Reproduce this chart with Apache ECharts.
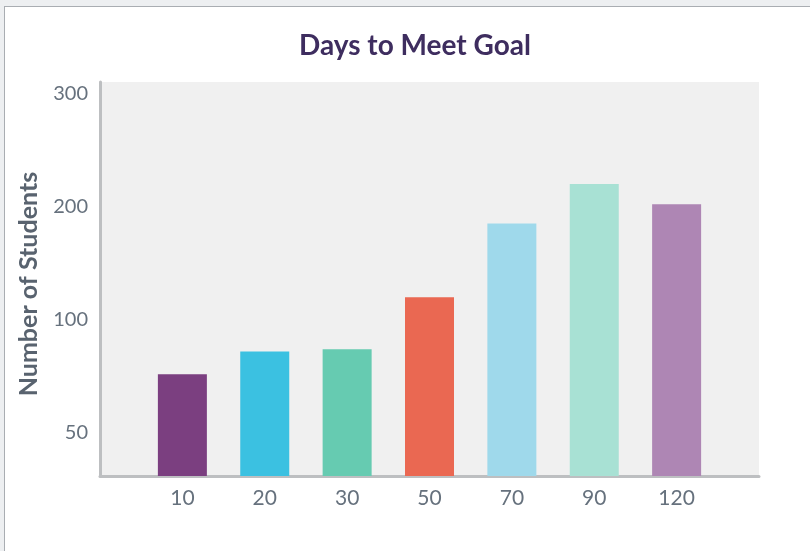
<!DOCTYPE html>
<html>
<head>
<meta charset="utf-8">
<script src="https://cdn.jsdelivr.net/npm/echarts@6/dist/echarts.min.js"></script>
<style>
  html, body { margin: 0; padding: 0; width: 810px; height: 551px; overflow: hidden; background: #edeff1; }
  #card { position: absolute; left: 4px; top: 6px; width: 900px; height: 700px; background: #ffffff; border: 1px solid #a9adb2; }
  #chart { position: absolute; left: 0; top: 0; width: 810px; height: 551px; }
</style>
</head>
<body>
<div id="card"></div>
<div id="chart"></div>
<script>
// ---- data ----
const categories = ['10', '20', '30', '50', '70', '90', '120'];
const students = [76, 86, 87, 120, 185, 220, 202];
const barColors = ['#7b3f80', '#3bc1e1', '#66cbb1', '#ea6852', '#9fd9eb', '#a8e1d4', '#ae86b4'];
// tick labels as they appear on the (unevenly labelled) y axis, bottom to top
const yTickLabels = [50, 100, 200, 300];

// The y axis places its labels at equal steps; map a student count onto
// that scale piecewise-linearly between the labelled ticks.
function toAxisPos(v) {
  const t = yTickLabels;
  if (v <= t[0]) return 1 + (v - t[0]) / (t[1] - t[0]);
  for (let i = 0; i < t.length - 1; i++) {
    if (v <= t[i + 1]) return 1 + i + (v - t[i]) / (t[i + 1] - t[i]);
  }
  const n = t.length - 1;
  return 1 + n + (v - t[n]) / (t[n] - t[n - 1]);
}
const tickPositions = yTickLabels.map(toAxisPos);

const chart = echarts.init(document.getElementById('chart'), null, { renderer: 'canvas' });
chart.setOption({
  backgroundColor: 'transparent',
  animation: false,
  title: {
    text: 'Days to Meet Goal',
    left: 410,
    textAlign: 'center',
    top: 27,
    textStyle: { fontFamily: 'Lato', fontWeight: 'bold', fontSize: 28, color: '#3e2d5f' }
  },
  grid: {
    left: 100, right: 51, top: 82, bottom: 75,
    show: true, backgroundColor: '#f0f0f0', borderWidth: 0
  },
  xAxis: {
    type: 'value',
    min: -1, max: 7, interval: 1,
    axisLine: { show: true, onZero: false, lineStyle: { color: '#bdbfc1', width: 3 } },
    axisTick: { show: false },
    splitLine: { show: false },
    axisLabel: {
      margin: 12,
      fontFamily: 'Lato', fontSize: 21, color: '#66717d',
      formatter: v => (Number.isInteger(v) && v >= 0 && v < categories.length) ? categories[v] : ''
    }
  },
  yAxis: {
    type: 'value',
    min: 0.6205, max: 4.1,
    name: 'Number of Students',
    nameLocation: 'middle',
    nameGap: 59,
    nameTextStyle: { fontFamily: 'Lato', fontWeight: 'bold', fontSize: 25, color: '#59636f', padding: [0, 10, 0, 0] },
    axisLine: { show: true, onZero: false, lineStyle: { color: '#bdbfc1', width: 3 } },
    axisTick: { show: false },
    splitLine: { show: false },
    axisLabel: {
      customValues: tickPositions,
      margin: 12,
      fontFamily: 'Lato', fontSize: 20, color: '#66717d',
      formatter: v => {
        const i = tickPositions.findIndex(p => Math.abs(p - v) < 1e-6);
        return i >= 0 ? String(yTickLabels[i]) : '';
      }
    }
  },
  series: [{
    type: 'bar',
    barWidth: 49,
    clip: true,
    data: students.map((s, i) => ({
      value: [i, toAxisPos(s)],
      itemStyle: { color: barColors[i] }
    }))
  }]
});
</script>
</body>
</html>
